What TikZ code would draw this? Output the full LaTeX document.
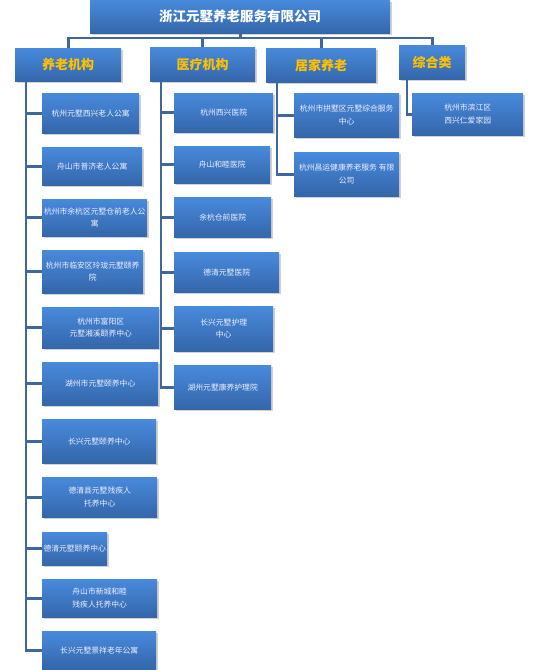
\documentclass[tikz,border=0pt]{standalone}
\usepackage{fontspec}
\newfontfamily\cjk{Noto Sans CJK SC}
\usetikzlibrary{shadows}
\definecolor{boxtop}{RGB}{72,138,220}
\definecolor{boxbot}{RGB}{52,102,170}
\definecolor{linec}{RGB}{64,103,156}
\definecolor{catc}{RGB}{255,192,0}
\tikzset{
  x=1pt,y=-1pt,
  bx/.style={rectangle, anchor=north west, inner sep=0pt, top color=boxtop, bottom color=boxbot, draw=none,
    drop shadow={shadow xshift=1.5pt, shadow yshift=-2pt, opacity=0.3, fill=black!60}},
  titlebox/.style={bx, font=\cjk\bfseries\fontsize{13.5}{16}\selectfont, text=white},
  catbox/.style={bx, font=\cjk\bfseries\fontsize{13}{15}\selectfont, text=catc},
  child/.style={bx, align=center, font=\cjk\fontsize{7.8}{12.5}\selectfont, text=white!94!blue},
  conn/.style={draw=linec, line width=2.9pt}
}
\begin{document}
\begin{tikzpicture}
\useasboundingbox (0,0) rectangle (537,670);
% title
\node[titlebox, minimum width=300, minimum height=33] (title) at (90,0) {浙江元墅养老服务有限公司};
% categories
\node[catbox, minimum width=106, minimum height=33] (cat1) at (15,48) {养老机构};
\node[catbox, minimum width=105, minimum height=34] (cat2) at (150,47) {医疗机构};
\node[catbox, minimum width=110, minimum height=34] (cat3) at (266,48) {居家养老};
\node[catbox, minimum width=66, minimum height=34] (cat4) at (399,45) {综合类};
\coordinate (bus) at (0,38);
\coordinate (v1) at (26,81);
\coordinate (v2) at (161,81);
\coordinate (v3) at (277,82);
\coordinate (v4) at (407,79);
% left column
\node[child, minimum width=97, minimum height=40] (l1) at (42,93) {杭州元墅西兴老人公寓};
\node[child, minimum width=100, minimum height=38] (l2) at (42,147) {舟山市普济老人公寓};
\node[child, minimum width=105, minimum height=37] (l3) at (42,199) {杭州市余杭区元墅仓前老人公\\寓};
\node[child, minimum width=101, minimum height=43] (l4) at (42,250) {杭州市临安区玲珑元墅颐养\\院};
\node[child, minimum width=117, minimum height=41] (l5) at (42,307) {杭州市富阳区\\元墅湘溪颐养中心};
\node[child, minimum width=116, minimum height=43] (l6) at (42,362) {湖州市元墅颐养中心};
\node[child, minimum width=114, minimum height=44] (l7) at (42,419) {长兴元墅颐养中心};
\node[child, minimum width=115, minimum height=40] (l8) at (42,477) {德清县元墅残疾人\\托养中心};
\node[child, minimum width=65, minimum height=33] (l9) at (42,532) {德清元墅颐养中心};
\node[child, minimum width=115, minimum height=38] (l10) at (42,579) {舟山市新城和睦\\残疾人托养中心};
\node[child, minimum width=114, minimum height=38] (l11) at (42,631) {长兴元墅景祥老年公寓};
% middle column
\node[child, minimum width=99, minimum height=39] (m1) at (174,93) {杭州西兴医院};
\node[child, minimum width=96, minimum height=37] (m2) at (174,146) {舟山和睦医院};
\node[child, minimum width=97, minimum height=40] (m3) at (174,197) {余杭仓前医院};
\node[child, minimum width=105, minimum height=40] (m4) at (174,252) {德清元墅医院};
\node[child, minimum width=99, minimum height=45] (m5) at (174,306) {长兴元墅护理\\中心};
\node[child, minimum width=97, minimum height=44] (m6) at (174,365) {湖州元墅康养护理院};
% right columns
\node[child, minimum width=105, minimum height=44] (r1) at (294,93) {杭州市拱墅区元墅综合服务\\中心};
\node[child, minimum width=105, minimum height=44] (r2) at (294,152) {杭州昌运健康养老服务 有限\\公司};
\node[child, minimum width=111, minimum height=42] (c1) at (412,93) {杭州市滨江区\\西兴仁爱家园};
% connectors
\foreach \c in {cat1,cat2,cat3,cat4}
  \draw[conn] (title.south) -- (title.south |- bus) -| (\c.north);
\foreach \n in {l1,l2,l3,l4,l5,l6,l7,l8,l9,l10,l11}
  \draw[conn] (v1) |- (\n.west);
\foreach \n in {m1,m2,m3,m4,m5,m6}
  \draw[conn] (v2) |- (\n.west);
\foreach \n in {r1,r2}
  \draw[conn] (v3) |- (\n.west);
\draw[conn] (v4) |- (c1.west);
\end{tikzpicture}
\end{document}
